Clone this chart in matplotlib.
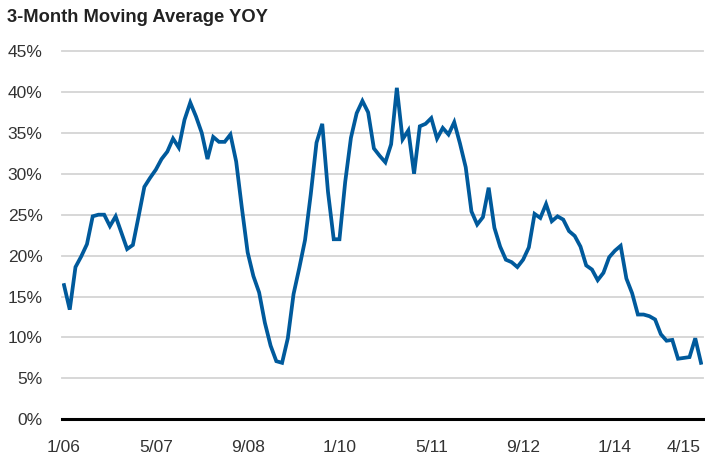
import numpy as np
import matplotlib
matplotlib.use("Agg")
from matplotlib import pyplot as plt

# monthly 3-month moving average YOY, 1/06 .. 4/15 (percent)
values = [
    16.4, 13.4, 18.6, 19.9, 21.4, 24.8, 25.0, 25.0, 23.6, 24.8, 22.8, 20.8,   # 2006
    21.3, 24.8, 28.4, 29.5, 30.5, 31.8, 32.7, 34.3, 33.2, 36.6, 38.7, 37.0,   # 2007
    35.0, 31.8, 34.5, 33.9, 33.9, 34.8, 31.5, 25.8, 20.4, 17.5, 15.5, 11.8,   # 2008
    9.0, 7.1, 6.9, 9.9, 15.3, 18.5, 21.9, 27.5, 33.8, 36.1, 27.8, 22.0,       # 2009
    22.0, 29.0, 34.4, 37.4, 38.9, 37.5, 33.1, 32.2, 31.4, 33.6, 40.5, 34.2,   # 2010
    35.3, 30.0, 35.8, 36.1, 36.8, 34.3, 35.6, 34.8, 36.3, 33.7, 30.8, 25.4,   # 2011
    23.8, 24.7, 28.3, 23.4, 21.1, 19.5, 19.2, 18.6, 19.5, 21.0, 25.1, 24.6,   # 2012
    26.3, 24.2, 24.8, 24.4, 23.0, 22.4, 21.1, 18.8, 18.3, 17.0, 17.9, 19.8,   # 2013
    20.6, 21.2, 17.2, 15.4, 12.8, 12.8, 12.6, 12.2, 10.4, 9.6, 9.7, 7.4,      # 2014
    7.5, 7.6, 9.9, 6.9,                                                       # 2015
]
tick_pos = [0, 16, 32, 48, 64, 80, 96, 111]
tick_labels = ["1/06", "5/07", "9/08", "1/10", "5/11", "9/12", "1/14", "4/15"]
y_ticks = list(range(0, 50, 5))

plt.rcParams['font.family'] = ['Liberation Sans', 'DejaVu Sans']

fig = plt.figure(figsize=(7.05, 4.54), dpi=100)
ax = fig.add_axes([62/705, 1 - 419.3/454, 641/705, (419.3 - 51)/454])

x = np.arange(len(values))
for v in y_ticks[1:]:
    ax.axhline(v, color='#d4d4d4', lw=1.3, zorder=1, clip_on=False)
ax.axhline(0, color='black', lw=2.2, zorder=3, clip_on=False)
ax.plot(x, values, color='#005a9c', lw=2.7, zorder=4, solid_joinstyle='miter')

ax.set_xlim(-0.35, len(values) - 1 + 0.35)
ax.set_ylim(0, 45)
ax.set_yticks(y_ticks)
ax.set_yticklabels([f"{v}%" for v in y_ticks])
ax.set_xticks(tick_pos)
ax.set_xticklabels(tick_labels)
ax.get_xticklabels()[-1].set_horizontalalignment('right')
ax.tick_params(axis='y', length=0, pad=14, labelsize=12.5, labelcolor='#333333')
ax.tick_params(axis='x', length=0, pad=15, labelsize=12.5, labelcolor='#333333')
for s in ax.spines.values():
    s.set_visible(False)

fig.text(7/705, 1 - 18/454, "3-Month Moving Average YOY", fontsize=13.2,
         fontweight='bold', color='#222222', va='center', ha='left')

fig.savefig('out.png', dpi=100)
